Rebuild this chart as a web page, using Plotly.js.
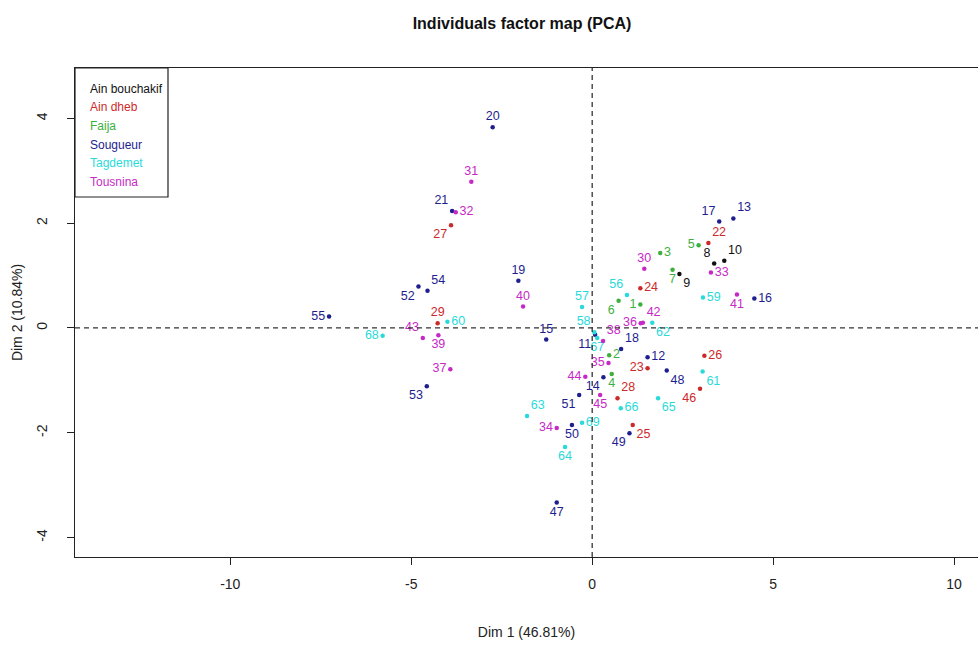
<!DOCTYPE html>
<html>
<head>
<meta charset="utf-8">
<script src="https://cdn.plot.ly/plotly-3.0.1.min.js"></script>
<style>
  html, body { margin: 0; padding: 0; background: #ffffff; overflow: hidden; }
  #chart { width: 978px; height: 648px; }
</style>
</head>
<body>
<div id="chart"></div>
<script>
// ---------- data ----------
const groupNames = ["Ain bouchakif", "Ain dheb", "Faija", "Sougueur", "Tagdemet", "Tousnina"];
const groupColors = ["#111111", "#CC2A2A", "#3DB03D", "#1E1E8E", "#2ADADA", "#C62AC6"];

const ids = [1,2,3,4,5,6,7,8,9,10,11,12,13,14,15,16,17,18,19,20,21,22,23,24,25,26,27,28,29,30,
             31,32,33,34,35,36,37,38,39,40,41,42,43,44,45,46,47,48,49,50,51,52,53,54,55,56,57,58,59,60,
             61,62,63,64,65,66,67,68,69];

const dim1 = [1.33,0.47,1.88,0.54,2.94,0.73,2.22,3.37,2.41,3.65,0.08,1.53,3.90,0.31,-1.27,4.48,3.51,0.80,-2.04,-2.75,
              -3.87,3.21,1.53,1.33,1.12,3.10,-3.90,0.70,-4.27,1.44,-3.34,-3.77,3.28,-0.98,0.45,1.34,-3.92,0.30,-4.25,-1.91,
              4.00,1.40,-4.68,-0.19,0.22,2.98,-0.98,2.06,1.03,-0.56,-0.36,-4.80,-4.57,-4.55,-7.27,0.96,-0.28,0.06,3.06,-4.00,
              3.05,1.66,-1.80,-0.75,1.82,0.79,0.14,-5.79,-0.28];

const dim2 = [0.45,-0.52,1.43,-0.88,1.58,0.52,1.11,1.23,1.03,1.28,-0.13,-0.56,2.09,-0.94,-0.22,0.56,2.03,-0.40,0.90,3.83,
              2.23,1.62,-0.77,0.76,-1.85,-0.53,1.96,-1.34,0.09,1.13,2.79,2.21,1.06,-1.91,-0.67,0.09,-0.79,-0.25,-0.14,0.41,
              0.64,0.10,-0.19,-0.93,-1.28,-1.16,-3.33,-0.81,-2.01,-1.85,-1.28,0.79,-1.11,0.71,0.22,0.63,0.40,-0.08,0.58,0.12,
              -0.83,0.10,-1.68,-2.27,-1.34,-1.53,-0.19,-0.15,-1.81];

// group index (into groupNames) for each individual
const groupOf = [2,2,2,2,2,2,2,0,0,0,3,3,3,3,3,3,3,3,3,3,
                 3,1,1,1,1,1,1,1,1,5,5,5,5,5,5,5,5,5,5,5,
                 5,5,5,5,5,1,3,3,3,3,3,3,3,3,3,4,4,4,4,4,
                 4,4,4,4,4,4,4,4,4];

const xTicks = [-10, -5, 0, 5, 10];
const yTicks = [-4, -2, 0, 2, 4];

// ---------- label placement (style only) ----------
const labelPos = ["middle left","middle right","middle right","bottom center","middle left","bottom left","bottom center","top left","bottom right","top right",
  "bottom left","middle right","top right","bottom left","top center","middle right","top left","top right","top center","top center",
  "top left","top right","middle left","middle right","bottom right","middle right","bottom left","top right","top center","top center",
  "top center","middle right","middle right","middle left","middle left","middle left","middle left","top right","bottom center","top center",
  "bottom center","top right","top left","middle left","bottom center","bottom left","bottom center","bottom right","bottom left","bottom center",
  "bottom left","bottom left","bottom left","top right","middle left","top left","top center","top left","middle right","middle right",
  "bottom right","bottom right","top right","bottom center","bottom right","middle right","bottom center","middle left","middle right"];

// ---------- geometry ----------
const W = 978, H = 648;
const M = {l: 75, r: 0, t: 68, b: 91};
const xRange = [-14.29, 10.66];
const yRange = [-4.37, 4.96];
const pxX = px => (px - M.l) / (W - M.l - M.r);
const pxY = py => (H - M.b - py) / (H - M.t - M.b);

const FONT = "Liberation Sans, Arial, Helvetica, sans-serif";

// ---------- traces ----------
const traces = groupNames.map((g, gi) => {
  const idx = [];
  groupOf.forEach((v, i) => { if (v === gi) idx.push(i); });
  return {
    type: "scatter",
    mode: "markers+text",
    name: g,
    x: idx.map(i => dim1[i]),
    y: idx.map(i => dim2[i]),
    text: idx.map(i => String(ids[i])),
    textposition: idx.map(i => labelPos[i]),
    textfont: {family: FONT, size: 12.5, color: groupColors[gi]},
    marker: {size: 4.5, color: groupColors[gi]},
    cliponaxis: false,
    hoverinfo: "text+x+y",
    showlegend: false
  };
});

// ---------- legend (R-style box with coloured text) ----------
const annotations = groupNames.map((g, gi) => ({
  xref: "paper", yref: "paper",
  x: pxX(88), y: pxY(88.5 + gi * 18.7),
  xanchor: "left", yanchor: "middle",
  text: g, showarrow: false,
  font: {family: FONT, size: 12, color: groupColors[gi]}
}));

const shapes = [
  // reference dashed lines
  {type: "line", xref: "x", yref: "paper", x0: 0, x1: 0, y0: 0, y1: 1,
   line: {color: "#333333", width: 1.3, dash: "5px,4px"}},
  {type: "line", xref: "paper", yref: "y", x0: 0, x1: 1, y0: 0, y1: 0,
   line: {color: "#333333", width: 1.3, dash: "5px,4px"}},
  // legend box
  {type: "rect", xref: "paper", yref: "paper",
   x0: pxX(75), x1: pxX(168), y0: pxY(197), y1: pxY(68),
   line: {color: "#222222", width: 1.2}, fillcolor: "rgba(255,255,255,0)"}
];

const layout = {
  width: W, height: H,
  margin: M,
  paper_bgcolor: "#ffffff",
  plot_bgcolor: "#ffffff",
  font: {family: FONT, color: "#222222", size: 14},
  title: {
    text: "<b>Individuals factor map (PCA)</b>",
    font: {family: FONT, size: 16, color: "#111111"},
    xref: "container", yref: "container",
    x: 522 / W, y: 1 - 23 / H, xanchor: "center", yanchor: "middle"
  },
  xaxis: {
    range: xRange, tickvals: xTicks, ticktext: xTicks.map(String),
    showgrid: false, zeroline: false,
    showline: true, mirror: true, linecolor: "#222222", linewidth: 1.2,
    ticks: "outside", ticklen: 7, tickwidth: 1.1, tickcolor: "#222222",
    tickfont: {family: FONT, size: 14, color: "#222222"},
    ticklabelstandoff: 7,
    title: {text: "Dim 1 (46.81%)", font: {family: FONT, size: 14, color: "#222222"}, standoff: 36}
  },
  yaxis: {
    range: yRange, tickvals: yTicks, ticktext: yTicks.map(String),
    showgrid: false, zeroline: false,
    showline: true, mirror: false, linecolor: "#222222", linewidth: 1.2,
    ticks: "outside", ticklen: 7, tickwidth: 1.1, tickcolor: "#222222",
    tickangle: -90,
    tickfont: {family: FONT, size: 14, color: "#222222"},
    ticklabelstandoff: 14,
    title: {text: "Dim 2 (10.84%)", font: {family: FONT, size: 14, color: "#222222"}, standoff: 8}
  },
  shapes: shapes,
  annotations: annotations,
  showlegend: false
};

Plotly.newPlot("chart", traces, layout, {displayModeBar: false, staticPlot: false});
</script>
</body>
</html>
